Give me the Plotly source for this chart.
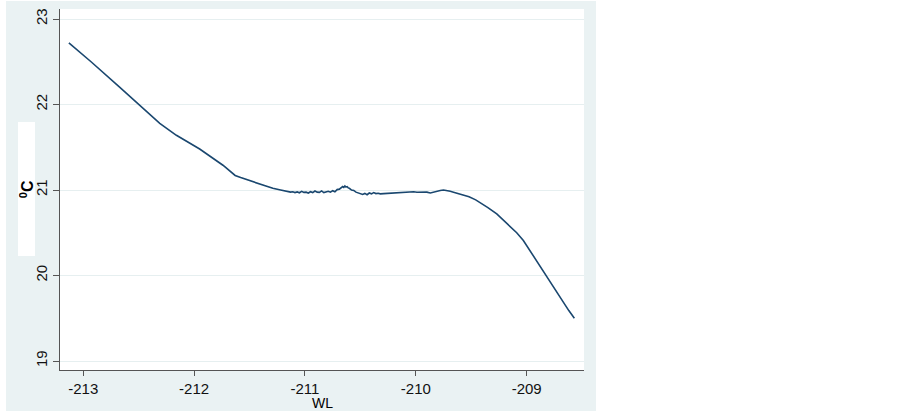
import plotly.graph_objects as go

wl = [-213.13, -212.93, -212.67, -212.49, -212.31, -212.16, -211.95, -211.74, -211.63, -211.58,
      -211.50, -211.41, -211.35, -211.29, -211.22, -211.16, -211.13, -211.11, -211.09, -211.07,
      -211.05, -211.03, -211.01, -210.99, -210.97, -210.95, -210.93, -210.91, -210.89, -210.87,
      -210.85, -210.83, -210.81, -210.79, -210.77, -210.75, -210.73, -210.71, -210.69, -210.67,
      -210.66, -210.65, -210.64, -210.63, -210.62, -210.61, -210.60, -210.58, -210.56, -210.54,
      -210.52, -210.50, -210.48, -210.46, -210.44, -210.42, -210.40, -210.38, -210.36, -210.34,
      -210.32, -210.29, -210.26, -210.23, -210.20, -210.17, -210.14, -210.11, -210.08, -210.05,
      -210.02, -209.99, -209.96, -209.93, -209.90, -209.87, -209.84, -209.81, -209.78, -209.75,
      -209.72, -209.69, -209.66, -209.63, -209.58, -209.52, -209.46, -209.42, -209.35, -209.27,
      -209.21, -209.15, -209.09, -209.03, -208.97, -208.91, -208.85, -208.79, -208.73, -208.67,
      -208.62, -208.57]
temp = [22.72, 22.50, 22.20, 21.99, 21.78, 21.64, 21.48, 21.29, 21.17, 21.145,
        21.11, 21.065, 21.04, 21.02, 21.00, 20.985, 20.975, 20.98, 20.97, 20.978,
        20.968, 20.985, 20.972, 20.975, 20.965, 20.98, 20.97, 20.988, 20.975, 20.972,
        20.99, 20.97, 20.98, 20.985, 20.975, 20.992, 20.98, 21.005, 21.01, 21.025,
        21.04, 21.03, 21.048, 21.035, 21.04, 21.025, 21.02, 21.00, 20.995, 20.975,
        20.965, 20.955, 20.948, 20.96, 20.945, 20.965, 20.955, 20.97, 20.958, 20.962,
        20.955, 20.958, 20.96, 20.965, 20.962, 20.968, 20.97, 20.972, 20.978, 20.975,
        20.98, 20.974, 20.977, 20.972, 20.975, 20.966, 20.978, 20.99, 20.995, 21.00,
        20.995, 20.985, 20.975, 20.965, 20.945, 20.92, 20.885, 20.855, 20.795, 20.72,
        20.65, 20.58, 20.50, 20.41, 20.29, 20.17, 20.045, 19.915, 19.80, 19.68,
        19.59, 19.50]

x_ticks = [-213, -212, -211, -210, -209]
y_ticks = [19, 20, 21, 22, 23]
x_title = "WL"
y_title = "<sup>0</sup>C"

fig = go.Figure()
fig.add_trace(go.Scatter(x=wl, y=temp, mode="lines",
                         line=dict(color="#1a476f", width=1.6), showlegend=False))

W, H = 903, 413
L, R, T, B = 60, 319, 9, 43
pw = W - L - R
ph = H - T - B

def px_x(p):
    return (p - L) / pw

def px_y(p):
    return (H - B - p) / ph

FONT = "Liberation Sans, Arial, sans-serif"
fig.update_layout(
    width=W, height=H,
    margin=dict(l=L, r=R, t=T, b=B),
    paper_bgcolor="white",
    plot_bgcolor="white",
    font=dict(family=FONT, size=15, color="#111111"),
    shapes=[
        dict(type="rect", xref="paper", yref="paper", layer="below",
             x0=px_x(6), x1=px_x(596), y0=px_y(411), y1=px_y(1),
             fillcolor="#eaf2f3", line=dict(width=0)),
        dict(type="rect", xref="paper", yref="paper", layer="below",
             x0=0, x1=1, y0=0, y1=1, fillcolor="white", line=dict(width=0)),
    ],
    annotations=[
        dict(text="<b>" + y_title + "</b>", xref="paper", yref="paper", x=px_x(26), y=px_y(189.5),
             xanchor="center", yanchor="middle", showarrow=False, textangle=-90,
             bgcolor="white", width=133, height=16, borderpad=0,
             font=dict(size=16, color="black", family=FONT)),
        dict(text=x_title, xref="paper", yref="paper", x=px_x(322), y=px_y(403),
             xanchor="center", yanchor="middle", showarrow=False,
             font=dict(size=14, color="black", family=FONT)),
    ],
)
fig.update_xaxes(range=[-213.210, -208.483], tickvals=x_ticks,
                 ticktext=[str(v) for v in x_ticks],
                 showline=True, linecolor="#555555", linewidth=1,
                 ticks="outside", ticklen=5, tickcolor="#555555",
                 showgrid=False, zeroline=False)
fig.update_yaxes(range=[18.895, 23.117], tickvals=y_ticks,
                 ticktext=[str(v) for v in y_ticks], tickangle=-90,
                 showline=True, linecolor="#555555", linewidth=1,
                 ticks="outside", ticklen=6, tickcolor="#555555",
                 showgrid=True, gridcolor="#e6eff0", gridwidth=1, zeroline=False)

fig.write_html("out.html", config={"displayModeBar": False},
               post_script="document.body.style.margin='0';document.body.style.padding='0';")
